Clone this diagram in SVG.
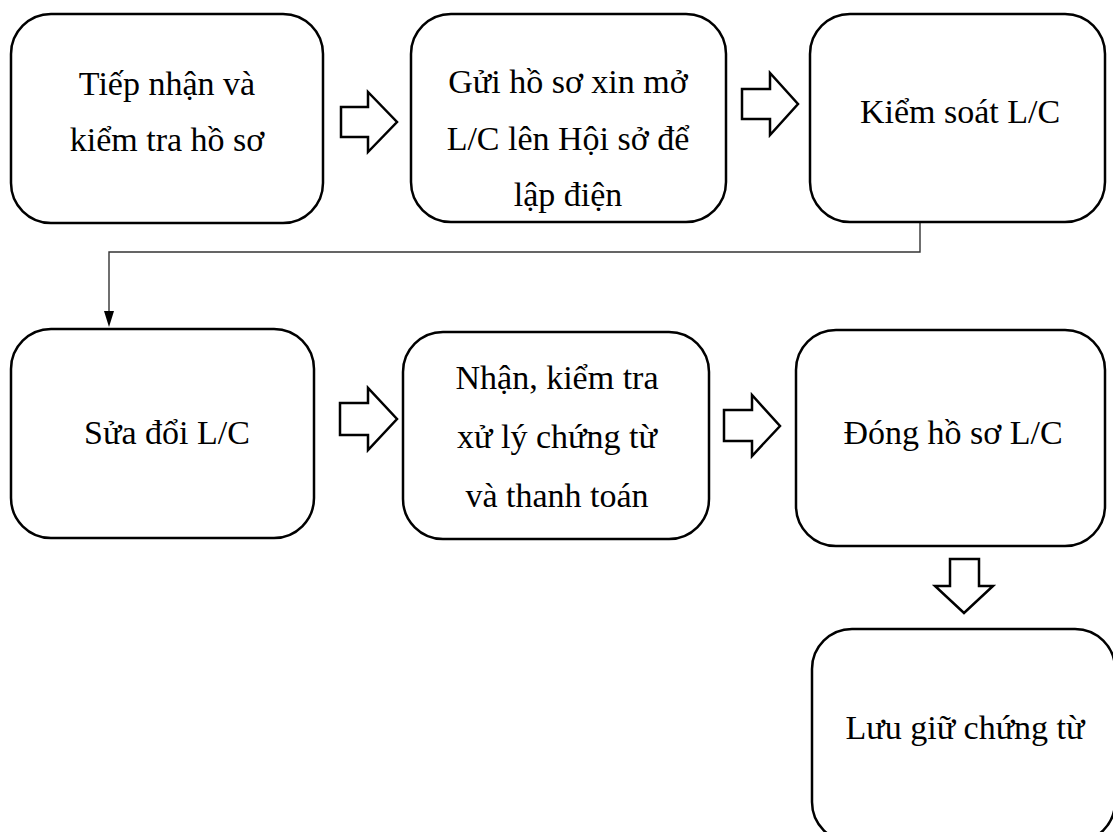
<svg xmlns="http://www.w3.org/2000/svg" width="1113" height="832" viewBox="0 0 1113 832">
<style>
.box{fill:#fff;stroke:#000;stroke-width:2.5}
.blk{fill:#fff;stroke:#000;stroke-width:2.5;stroke-linejoin:miter}
.t{font-family:"Liberation Serif","Times New Roman",serif;font-size:34px;fill:#000;text-anchor:middle}
.con{fill:none;stroke:#333;stroke-width:1.4}
</style>
<rect width="1113" height="832" fill="#fff"/>
<g id="connectors">
<polyline class="con" points="920,223 920,252 109,252 109,312"/>
<path d="M104,311 L114,311 L109,327 Z" fill="#000"/>
<polygon class="blk" points="341,107 368,107 368,92 397,122 368,152 368,137 341,137"/>
<polygon class="blk" points="742,89 770,89 770,73 798,104 770,135 770,119 742,119"/>
<polygon class="blk" points="340,403 368,403 368,388 397,419 368,450 368,435 340,435"/>
<polygon class="blk" points="724,410 752,410 752,395 780,426 752,456 752,441 724,441"/>
<polygon class="blk" points="950,559 979,559 979,586 993,586 964,613 935,586 950,586"/>
</g>
<g id="n1">
<rect class="box" x="11" y="14" width="312" height="209" rx="40"/>
<text class="t" x="167" y="95">Tiếp nhận và</text>
<text class="t" x="167" y="151">kiểm tra hồ sơ</text>
</g>
<g id="n2">
<rect class="box" x="411" y="14" width="315" height="208" rx="40"/>
<text class="t" x="568" y="93">Gửi hồ sơ xin mở</text>
<text class="t" x="568" y="150">L/C lên Hội sở để</text>
<text class="t" x="568" y="206">lập điện</text>
</g>
<g id="n3">
<rect class="box" x="810" y="14" width="295" height="208" rx="40"/>
<text class="t" x="960" y="123">Kiểm soát L/C</text>
</g>
<g id="n4">
<rect class="box" x="11" y="329" width="303" height="209" rx="40"/>
<text class="t" x="167" y="444">Sửa đổi L/C</text>
</g>
<g id="n5">
<rect class="box" x="403" y="332" width="306" height="207" rx="40"/>
<text class="t" x="557" y="389">Nhận, kiểm tra</text>
<text class="t" x="557" y="448">xử lý chứng từ</text>
<text class="t" x="557" y="507">và thanh toán</text>
</g>
<g id="n6">
<rect class="box" x="796" y="330" width="309" height="216" rx="40"/>
<text class="t" x="953" y="444">Đóng hồ sơ L/C</text>
</g>
<g id="n7">
<rect class="box" x="812" y="629" width="303" height="213" rx="40"/>
<text class="t" x="965" y="739">Lưu giữ chứng từ</text>
</g>
</svg>
